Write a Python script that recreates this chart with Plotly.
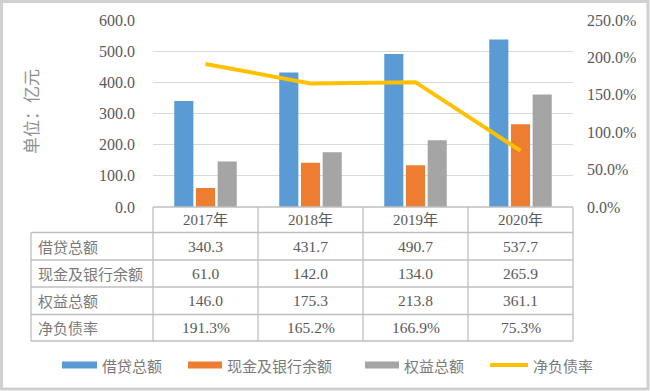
import plotly.graph_objects as go

categories = ["2017年", "2018年", "2019年", "2020年"]
borrowing = [340.3, 431.7, 490.7, 537.7]
cash = [61.0, 142.0, 134.0, 265.9]
equity = [146.0, 175.3, 213.8, 361.1]
gearing = [1.913, 1.652, 1.669, 0.753]
series_names = ["借贷总额", "现金及银行余额", "权益总额", "净负债率"]
left_ticks = [0, 100, 200, 300, 400, 500, 600]
right_ticks = [0, 0.5, 1.0, 1.5, 2.0, 2.5]

colors = ["#5B9BD5", "#ED7D31", "#A5A5A5", "#FFC000"]
TXT = "#595959"
CJK_TXT = "#7A7A7A"
GRID = "#D9D9D9"
SERIF = "Liberation Serif, Times New Roman, serif"
CJK = "Noto Sans CJK SC, sans-serif"

W, H = 650, 391
L, R, T, B = 153, 573, 20, 207  # plot area in px


def px(x):
    return (x - L) / (R - L)


def py(y):
    return (B - y) / (B - T)


fig = go.Figure()
for vals, name, c in zip([borrowing, cash, equity], series_names[:3], colors[:3]):
    fig.add_trace(go.Bar(x=categories, y=vals, name=name, marker_color=c,
                         marker_line_width=0, showlegend=False))
fig.add_trace(go.Scatter(x=categories, y=gearing, name=series_names[3], yaxis="y2",
                         mode="lines", line=dict(color=colors[3], width=4),
                         showlegend=False))

shapes = []
annotations = []
line_c = "#BFBFBF"
# table horizontal lines
row_edges = [207, 232.5, 260, 287, 314.5, 341]
for i, yy in enumerate(row_edges):
    x0 = L if i == 0 else 31
    shapes.append(dict(type="line", xref="paper", yref="paper", x0=px(x0), x1=px(R),
                       y0=py(yy), y1=py(yy), line=dict(color=line_c, width=1.3)))
# vertical lines
col_edges = [153, 258, 363, 468, 573]
for xx in col_edges:
    shapes.append(dict(type="line", xref="paper", yref="paper", x0=px(xx), x1=px(xx),
                       y0=py(207), y1=py(341), line=dict(color=line_c, width=1.3)))
shapes.append(dict(type="line", xref="paper", yref="paper", x0=px(31), x1=px(31),
                   y0=py(232.5), y1=py(341), line=dict(color=line_c, width=1.3)))

# header
for cat in categories:
    annotations.append(dict(x=cat, xref="x", y=py(220), yref="paper", text=cat,
                            showarrow=False, font=dict(family=SERIF + ", " + CJK, size=15, color=TXT),
                            xanchor="center", yanchor="middle"))
rows = [
    [f"{v:.1f}" for v in borrowing],
    [f"{v:.1f}" for v in cash],
    [f"{v:.1f}" for v in equity],
    [f"{v*100:.1f}%" for v in gearing],
]
for r, (name, vals) in enumerate(zip(series_names, rows)):
    yc = (row_edges[r + 1] + row_edges[r + 2]) / 2
    annotations.append(dict(x=px(36), xref="paper", y=py(yc), yref="paper", text=name,
                            showarrow=False, font=dict(family=CJK, size=15, color=CJK_TXT),
                            xanchor="left", yanchor="middle"))
    for cat, v in zip(categories, vals):
        annotations.append(dict(x=cat, xref="x", y=py(yc), yref="paper", text=v,
                                showarrow=False, font=dict(family=SERIF, size=15.5, color=TXT),
                                xanchor="center", yanchor="middle"))

# legend
leg_y = 365
leg_items = [(62, 97), (188, 222), (365, 399), (490, 528)]
for i, ((x0, x1), name, c) in enumerate(zip(leg_items, series_names, colors)):
    if i < 3:
        shapes.append(dict(type="rect", xref="paper", yref="paper", x0=px(x0), x1=px(x1),
                           y0=py(leg_y + 3.5), y1=py(leg_y - 3.5), fillcolor=c, line_width=0))
    else:
        shapes.append(dict(type="line", xref="paper", yref="paper", x0=px(x0), x1=px(x1),
                           y0=py(leg_y), y1=py(leg_y), line=dict(color=c, width=4)))
    annotations.append(dict(x=px(x1 + 3), xref="paper", y=py(leg_y), yref="paper", text=name,
                            showarrow=False, font=dict(family=CJK, size=15, color=CJK_TXT),
                            xanchor="left", yanchor="middle"))

# y title
annotations.append(dict(x=px(30), xref="paper", y=py(112), yref="paper", text="单位：亿元",
                        textangle=-90, showarrow=False,
                        font=dict(family=CJK, size=17, color="#909090"),
                        xanchor="center", yanchor="middle"))

# outer frame
shapes.append(dict(type="rect", xref="paper", yref="paper", x0=px(1.5), x1=px(648),
                   y0=py(1.5), y1=py(389), line=dict(color="#D0D0D0", width=3)))

fig.update_layout(
    width=W, height=H,
    margin=dict(l=L, r=W - R, t=T, b=H - B, pad=0),
    paper_bgcolor="white", plot_bgcolor="white",
    barmode="group", bargap=0.38, bargroupgap=0.12,
    showlegend=False,
    xaxis=dict(showticklabels=False, showgrid=False, zeroline=False, showline=False,
               ticks=""),
    yaxis=dict(range=[0, 600], tickvals=left_ticks, tickformat=".1f",
               showgrid=True, gridcolor=GRID, gridwidth=1.3, zeroline=False, showline=False,
               ticks="", ticklabelstandoff=17,
               tickfont=dict(family=SERIF, size=16, color=TXT)),
    yaxis2=dict(range=[0, 2.5], tickvals=right_ticks, tickformat=".1%", overlaying="y",
                side="right", showgrid=False, zeroline=False, showline=False, ticks="",
                ticklabelstandoff=13,
                tickfont=dict(family=SERIF, size=16, color=TXT)),
    shapes=shapes, annotations=annotations,
)

fig.write_html("out.html", config={"displayModeBar": False},
               post_script="document.body.style.margin='0';document.body.style.overflow='hidden';")
